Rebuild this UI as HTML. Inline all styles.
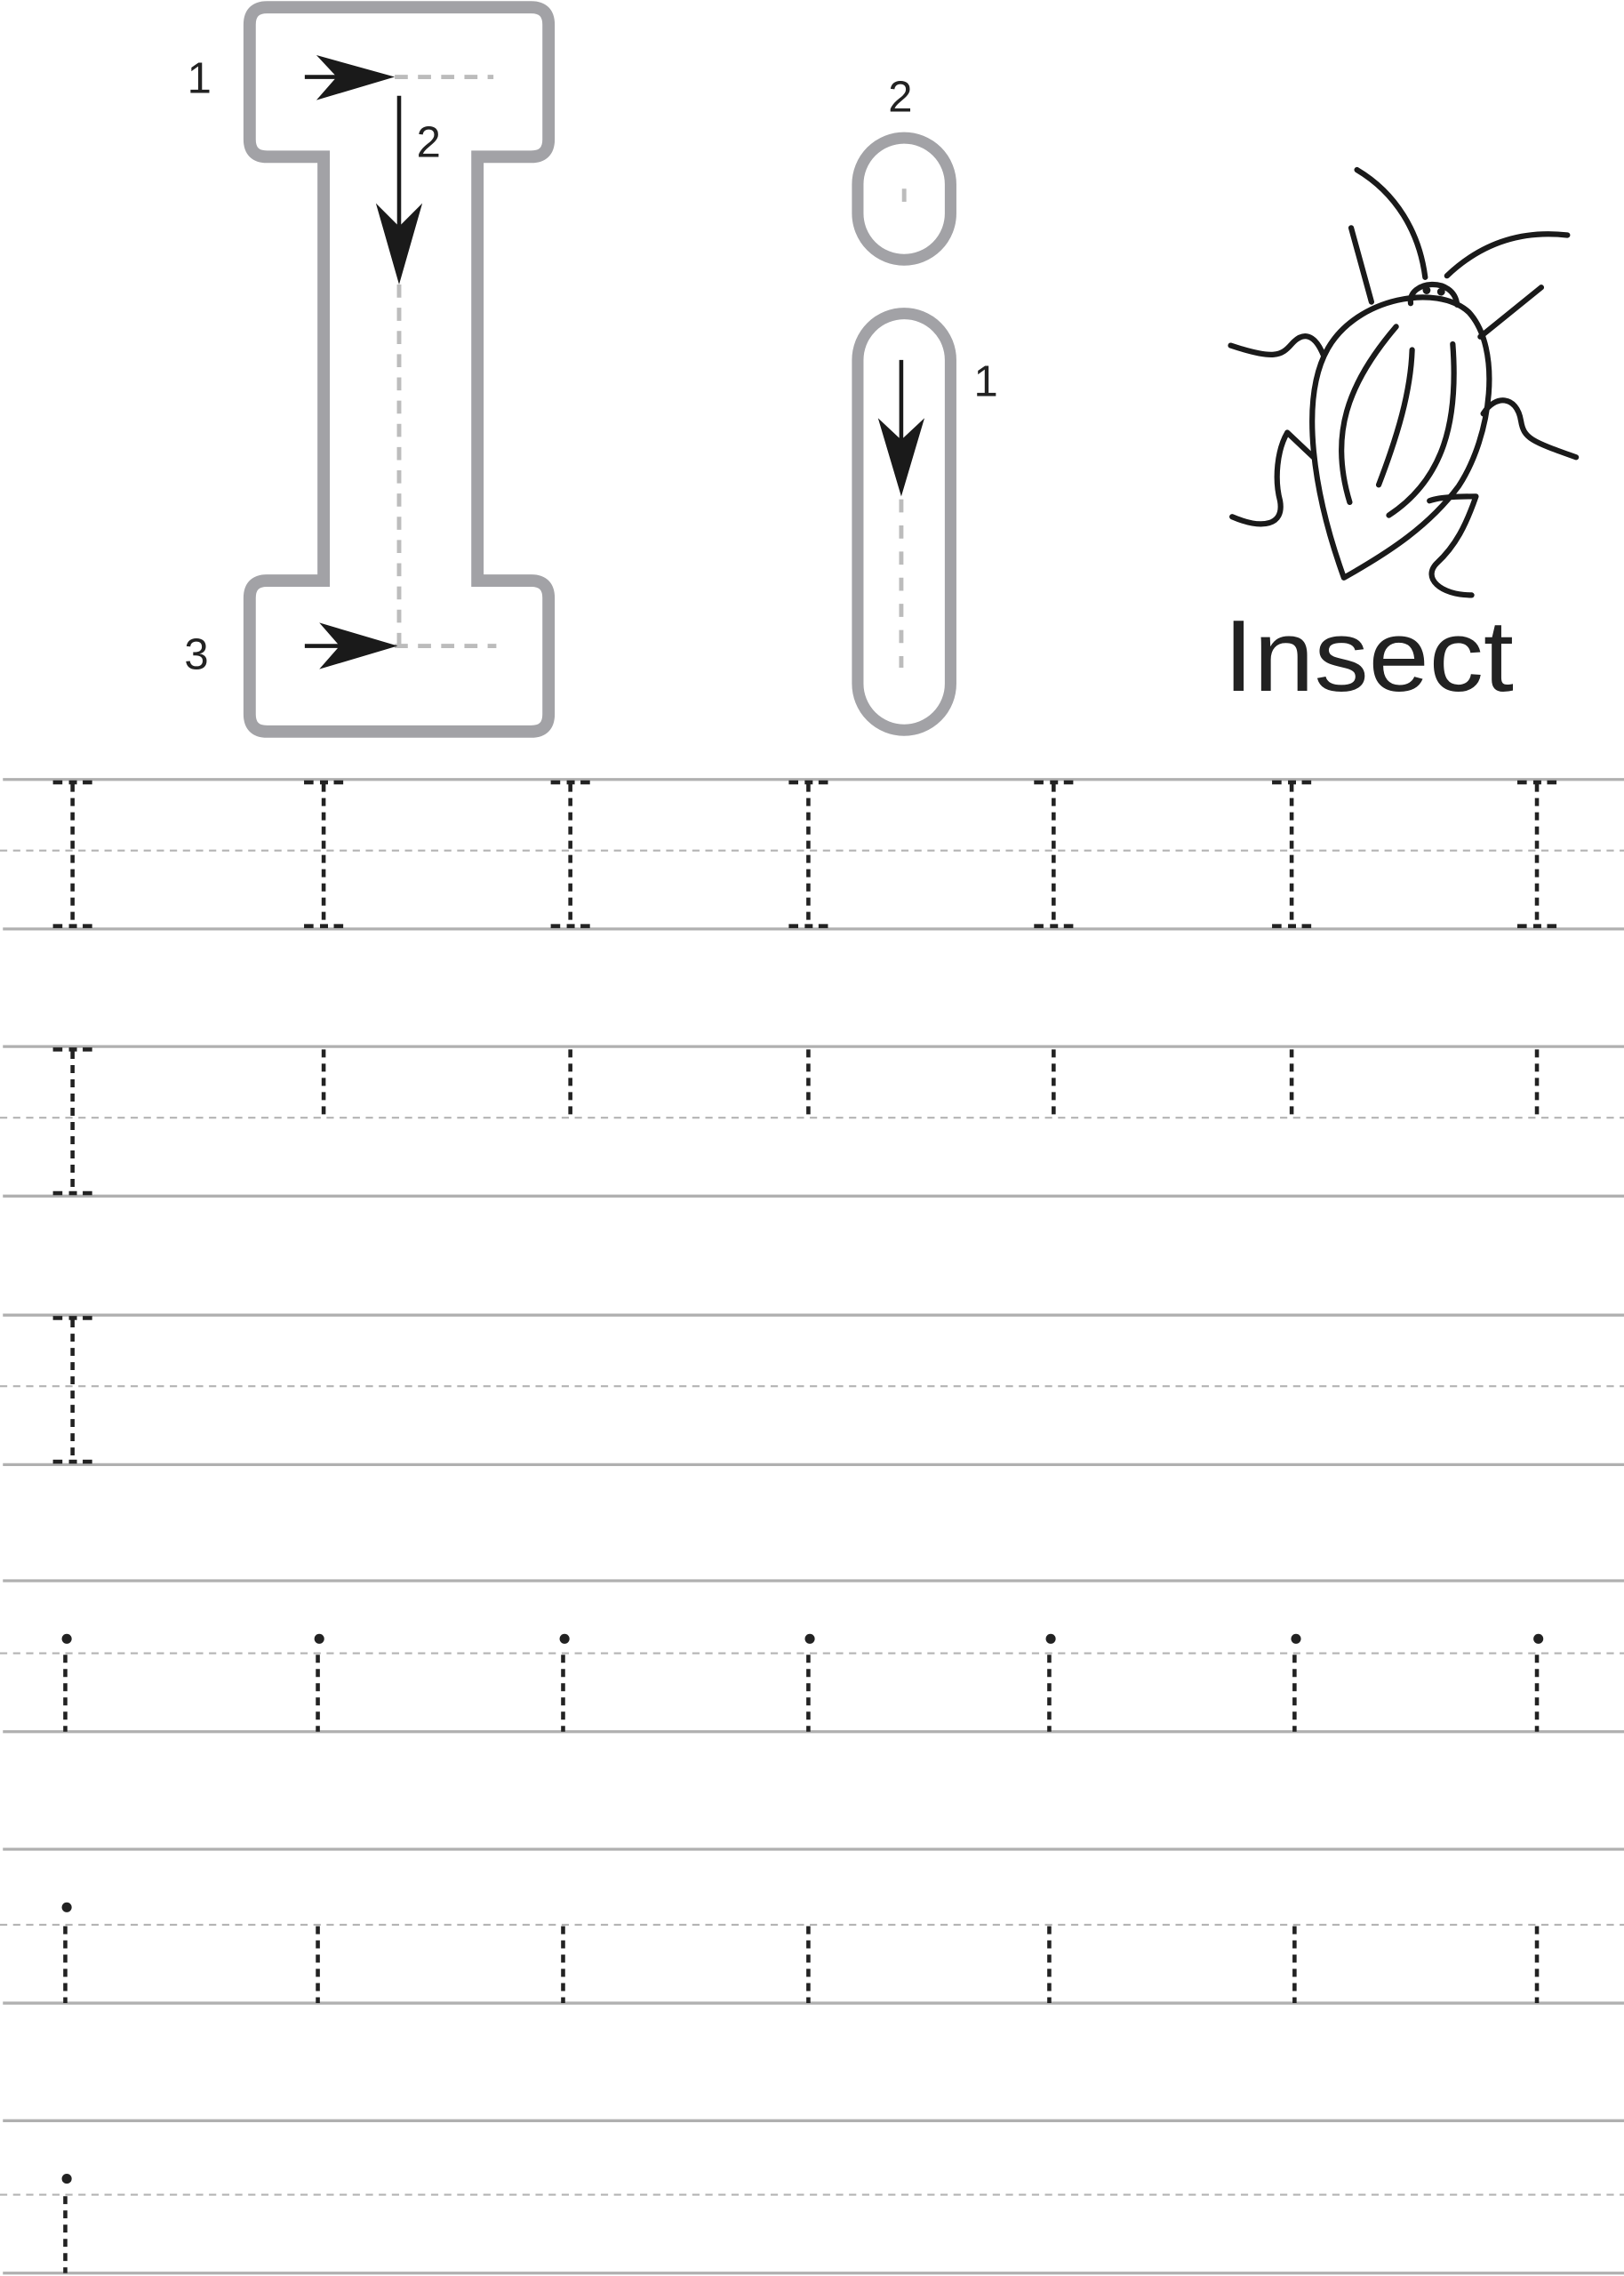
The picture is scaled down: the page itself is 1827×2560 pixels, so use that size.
<!DOCTYPE html>
<html><head><meta charset="utf-8"><style>
html,body{margin:0;padding:0;background:#fff;}
svg{display:block;}
</style></head><body>
<svg width="1827" height="2560" viewBox="0 0 1119 1568" preserveAspectRatio="none" xmlns="http://www.w3.org/2000/svg">
<rect width="1119" height="1568" fill="#fff"/>
<g id="lines">
 <g stroke="#b0b0b0" stroke-width="2">
  <line x1="2" y1="537" x2="1119" y2="537"/><line x1="2" y1="640" x2="1119" y2="640"/>
  <line x1="2" y1="721" x2="1119" y2="721"/><line x1="2" y1="824" x2="1119" y2="824"/>
  <line x1="2" y1="906" x2="1119" y2="906"/><line x1="2" y1="1009" x2="1119" y2="1009"/>
  <line x1="2" y1="1089" x2="1119" y2="1089"/><line x1="2" y1="1193" x2="1119" y2="1193"/>
  <line x1="2" y1="1274" x2="1119" y2="1274"/><line x1="2" y1="1380" x2="1119" y2="1380"/>
  <line x1="2" y1="1461" x2="1119" y2="1461"/><line x1="2" y1="1566" x2="1119" y2="1566"/>
 </g>
 <g stroke="#b4b4b4" stroke-width="1.3" stroke-dasharray="5 4">
  <line x1="0" y1="586" x2="1119" y2="586"/>
  <line x1="0" y1="770" x2="1119" y2="770"/>
  <line x1="0" y1="955" x2="1119" y2="955"/>
  <line x1="0" y1="1139" x2="1119" y2="1139"/>
  <line x1="0" y1="1326" x2="1119" y2="1326"/>
  <line x1="0" y1="1512" x2="1119" y2="1512"/>
 </g>
</g>
<defs>
 <g id="Ifull">
  <line x1="0" y1="540" x2="0" y2="637" stroke="#222" stroke-width="2.8" stroke-dasharray="5.5 4.3"/>
  <g stroke="#222" stroke-width="2.8">
   <line x1="-13.5" y1="539" x2="-7" y2="539"/><line x1="-2.5" y1="539" x2="3" y2="539"/><line x1="7" y1="539" x2="13.5" y2="539"/>
   <line x1="-13.5" y1="638" x2="-7" y2="638"/><line x1="-2.5" y1="638" x2="3" y2="638"/><line x1="7" y1="638" x2="13.5" y2="638"/>
  </g>
 </g>
</defs>
<g>
 <use href="#Ifull" x="50"/><use href="#Ifull" x="223"/><use href="#Ifull" x="393"/><use href="#Ifull" x="557"/>
 <use href="#Ifull" x="726"/><use href="#Ifull" x="890"/><use href="#Ifull" x="1059"/>
 <use href="#Ifull" x="50" y="184"/>
 <use href="#Ifull" x="50" y="369"/>
 <g stroke="#222" stroke-width="2.8" stroke-dasharray="5.5 4.3">
  <line x1="223" y1="723" x2="223" y2="770"/><line x1="393" y1="723" x2="393" y2="770"/>
  <line x1="557" y1="723" x2="557" y2="770"/><line x1="726" y1="723" x2="726" y2="770"/>
  <line x1="890" y1="723" x2="890" y2="770"/><line x1="1059" y1="723" x2="1059" y2="770"/>
 </g>
</g>
<g stroke="#222" stroke-width="2.8" stroke-dasharray="5.5 4.3">
 <line x1="45" y1="1140" x2="45" y2="1193"/><line x1="219" y1="1140" x2="219" y2="1193"/>
 <line x1="388" y1="1140" x2="388" y2="1193"/><line x1="557" y1="1140" x2="557" y2="1193"/>
 <line x1="723" y1="1140" x2="723" y2="1193"/><line x1="892" y1="1140" x2="892" y2="1193"/>
 <line x1="1059" y1="1140" x2="1059" y2="1193"/>
 <line x1="45" y1="1327" x2="45" y2="1380"/><line x1="219" y1="1327" x2="219" y2="1380"/>
 <line x1="388" y1="1327" x2="388" y2="1380"/><line x1="557" y1="1327" x2="557" y2="1380"/>
 <line x1="723" y1="1327" x2="723" y2="1380"/><line x1="892" y1="1327" x2="892" y2="1380"/>
 <line x1="1059" y1="1327" x2="1059" y2="1380"/>
 <line x1="45" y1="1513" x2="45" y2="1566"/>
</g>
<g fill="#222">
 <circle cx="46" cy="1129" r="3.4"/><circle cx="220" cy="1129" r="3.4"/><circle cx="389" cy="1129" r="3.4"/>
 <circle cx="558" cy="1129" r="3.4"/><circle cx="724" cy="1129" r="3.4"/><circle cx="893" cy="1129" r="3.4"/>
 <circle cx="1060" cy="1129" r="3.4"/>
 <circle cx="46" cy="1314" r="3.4"/>
 <circle cx="46" cy="1501" r="3.4"/>
</g>

<path d="M184,5 L366,5 Q378,5 378,17 L378,96 Q378,108 366,108 L329,108 L329,400 L366,400 Q378,400 378,412 L378,492 Q378,504 366,504 L184,504 Q172,504 172,492 L172,412 Q172,400 184,400 L223,400 L223,108 L184,108 Q172,108 172,96 L172,17 Q172,5 184,5 Z" fill="#fff" stroke="#a2a2a6" stroke-width="8.5"/>
<g stroke="#bcbcbc" stroke-width="3" stroke-dasharray="9 7" fill="none">
 <line x1="272" y1="53" x2="340" y2="53"/>
 <line x1="275" y1="196" x2="275" y2="445"/>
 <line x1="272" y1="445" x2="342" y2="445"/>
</g>
<g fill="#1a1a1a" stroke="#1a1a1a">
 <line x1="210" y1="53" x2="245" y2="53" stroke-width="2.8"/>
 <path d="M272,53 L218,38 L232,53 L218,69 Z" stroke="none"/>
 <line x1="275" y1="66" x2="275" y2="160" stroke-width="2.8"/>
 <path d="M275,196 L259,140 L275,156 L291,140 Z" stroke="none"/>
 <line x1="210" y1="445" x2="245" y2="445" stroke-width="2.8"/>
 <path d="M274,445 L220,429 L234,445 L220,461 Z" stroke="none"/>
</g>
<g font-family="Liberation Sans, sans-serif" font-size="30" fill="#222">
 <text x="129" y="64">1</text>
 <text x="287" y="108">2</text>
 <text x="127" y="461">3</text>
 <text x="612" y="77">2</text>
 <text x="671" y="273">1</text>
</g>

<rect x="591" y="95" width="64" height="84" rx="32" ry="32" fill="#fff" stroke="#a2a2a6" stroke-width="8"/>
<line x1="623" y1="130" x2="623" y2="139" stroke="#bcbcbc" stroke-width="3"/>
<rect x="591" y="216" width="64" height="287" rx="32" ry="32" fill="#fff" stroke="#a2a2a6" stroke-width="8"/>
<line x1="621" y1="344" x2="621" y2="460" stroke="#bcbcbc" stroke-width="3" stroke-dasharray="9 9"/>
<line x1="621" y1="248" x2="621" y2="305" stroke="#1a1a1a" stroke-width="2.8"/>
<path d="M621,342 L605,288 L621,303 L637,288 Z" fill="#1a1a1a"/>

<g fill="none" stroke="#1a1a1a" stroke-width="3.8" stroke-linecap="round" stroke-linejoin="round">
 <path d="M926,398 C905,340 895,275 915,240 C935,205 990,195 1012,215 C1035,240 1028,300 1005,335 C985,362 958,380 926,398 Z"/>
 <path d="M972,209 C970,193 1002,190 1004,210"/>
 <path d="M982,191 C978,160 962,133 935,117"/>
 <path d="M997,190 C1018,170 1045,158 1080,162"/>
 <path d="M931,157 L945,208"/>
 <path d="M1020,232 L1062,198"/>
 <path d="M912,245 C906,230 898,228 890,237 C883,245 878,248 848,238"/>
 <path d="M1022,285 C1030,272 1045,272 1048,290 C1050,302 1055,304 1086,315"/>
 <path d="M905,315 L887,298 C880,310 878,330 882,345 C885,362 870,365 849,356"/>
 <path d="M985,345 C993,342 1008,342 1017,342 C1010,362 1003,376 990,388 C980,398 992,410 1014,410"/>
 <path d="M930,346 C916,300 928,265 962,225"/>
 <path d="M950,334 C963,300 972,270 973,241"/>
 <path d="M957,355 C995,330 1005,290 1001,237"/>
</g>
<circle cx="983" cy="200" r="2.7" fill="#1a1a1a"/><circle cx="993" cy="201" r="2.7" fill="#1a1a1a"/>
<text x="843" y="476" font-family="Liberation Sans, sans-serif" font-size="70" fill="#222" textLength="200" lengthAdjust="spacingAndGlyphs">Insect</text>
</svg>
</body></html>
